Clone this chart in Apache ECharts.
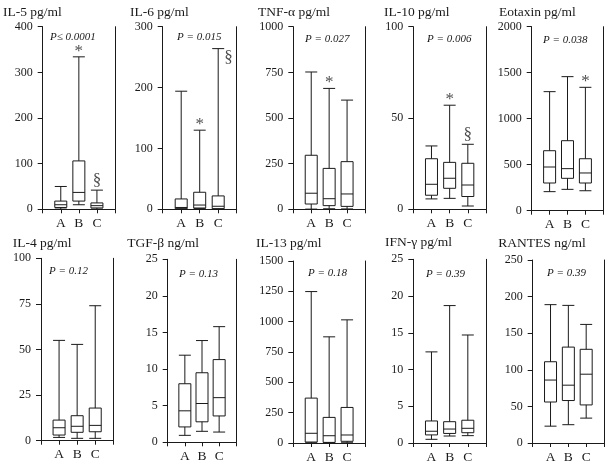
<!DOCTYPE html>
<html>
<head>
<meta charset="utf-8">
<script src="https://cdn.jsdelivr.net/npm/echarts@6/dist/echarts.min.js"></script>
<style>
html,body{margin:0;padding:0;background:#fff;}
#chart{width:609px;height:464px;}
</style>
</head>
<body>
<div id="chart"></div>
<script>
// ---- data ----
const categories = ['A', 'B', 'C'];
const panelTitles = ['IL-5 pg/ml', 'IL-6 pg/ml', 'TNF-α pg/ml', 'IL-10 pg/ml', 'Eotaxin pg/ml',
                     'IL-4 pg/ml', 'TGF-β ng/ml', 'IL-13 pg/ml', 'IFN-γ pg/ml', 'RANTES ng/ml'];
const pTexts = ['P≤ 0.0001', 'P = 0.015', 'P = 0.027', 'P = 0.006', 'P = 0.038',
                'P = 0.12', 'P = 0.13', 'P = 0.18', 'P = 0.39', 'P = 0.39'];
const yMax  = [400, 300, 1000, 100, 2000, 100, 25, 1500, 25, 250];
const yStep = [100, 100, 250, 50, 500, 25, 5, 250, 5, 50];
// [min, Q1, median, Q3, max] for A, B, C
const il5     = [[0.5, 4, 10, 18, 50], [10, 18, 37, 106, 334], [0.5, 3, 8, 14, 42]];
const il6     = [[0.3, 1, 3, 17, 194], [1.5, 2, 7, 28, 130], [0.5, 1, 5, 22, 264]];
const tnf     = [[1, 29, 88, 296, 752], [3, 20, 58, 224, 662], [2, 16, 84, 261, 598]];
const il10    = [[5.7, 7.7, 13.7, 27.7, 34.7], [6, 11.5, 17, 25.7, 57], [1.8, 7, 13.3, 25.2, 35.6]];
const eotaxin = [[207, 301, 475, 652, 1294], [232, 352, 457, 761, 1457], [217, 301, 410, 565, 1341]];
const il4     = [[1.8, 3.1, 7.1, 11.3, 55], [1.3, 4.6, 7.9, 13.7, 52.8], [1.3, 4.9, 8.4, 17.9, 74]];
const tgf     = [[0.95, 2.1, 4.3, 8.0, 11.9], [1.5, 2.8, 5.3, 9.5, 13.9], [1.4, 3.6, 6.1, 11.3, 15.8]];
const il13    = [[2, 8, 80, 370, 1248], [2, 5, 60, 211, 875], [2, 14, 66, 293, 1015]];
const ifn     = [[0.5, 1.1, 1.6, 3.0, 12.4], [0.95, 1.3, 1.9, 2.9, 18.7], [1.0, 1.4, 2.0, 3.1, 14.7]];
const rantes  = [[23, 56, 86, 111, 189], [25, 58, 79, 131, 188], [34, 52, 94, 128, 162]];
const panelValues = [il5, il6, tnf, il10, eotaxin, il4, tgf, il13, ifn, rantes];
// significance marks: [panel, category, symbol]
const marks = [[0, 'B', '*'], [0, 'C', '§'], [1, 'B', '*'], [1, 'C', '§'], [2, 'B', '*'],
               [3, 'B', '*'], [3, 'C', '§'], [4, 'C', '*']];

// ---- layout ----
const W = 609, H = 464;
const axisX  = [42.7, 162.7, 293.3, 413.3, 531.7, 41, 167.7, 293.3, 413.3, 532.7];
const rightX = [115, 236.7, 365, 486, 603.3, 113.3, 236.3, 365, 486, 604];
const topY   = [26.7, 26.7, 26.7, 26.7, 26.7, 258.3, 259.3, 261, 259.3, 260];
const zeroY  = [209.3, 209.3, 209.3, 209.3, 210.7, 440.7, 442.3, 443.3, 444, 445];
const titlePos = [[3, 12.5], [130, 12.5], [258, 12.5], [384, 12.5], [499, 12.5],
                  [12.7, 243.3], [127.3, 243.3], [256, 243.3], [385, 242], [498.3, 243.3]];
const pPos = [[50, 37], [177, 37], [305, 39], [427, 39], [543, 40],
              [49, 271], [179, 274], [308, 273], [426, 274], [547, 273]];

const FONT = '"Liberation Serif", "Times New Roman", serif';
const INK = '#1a1a1a';

const grid = [], xAxis = [], yAxis = [], series = [], graphic = [];
for (let i = 0; i < 10; i++) {
  grid.push({left: axisX[i], right: W - rightX[i], top: topY[i], bottom: H - zeroY[i]});
  xAxis.push({
    type: 'value', gridIndex: i, min: 0, max: 4, interval: 1,
    axisLine: {show: true, onZero: false, lineStyle: {color: INK, width: 1}},
    axisTick: {show: true, length: 4, lineStyle: {color: INK}},
    splitLine: {show: false},
    axisLabel: {
      show: true, margin: 7, fontFamily: FONT, fontSize: 13.5, color: INK,
      formatter: v => categories[v - 1] || ''
    }
  });
  yAxis.push({
    type: 'value', gridIndex: i, min: 0, max: yMax[i], interval: yStep[i],
    axisLine: {show: true, onZero: false, lineStyle: {color: INK, width: 1}},
    axisTick: {show: true, length: 5, lineStyle: {color: INK}},
    splitLine: {show: false},
    axisLabel: {margin: 10, fontFamily: FONT, fontSize: 12, color: INK, formatter: v => String(v)}
  });
  yAxis.push({
    type: 'value', gridIndex: i, min: 0, max: 1, position: 'right',
    axisLine: {show: true, onZero: false, lineStyle: {color: INK, width: 1}},
    axisTick: {show: false}, axisLabel: {show: false}, splitLine: {show: false}
  });
  series.push({
    type: 'boxplot', xAxisIndex: i, yAxisIndex: i * 2,
    boxWidth: [12, 12],
    itemStyle: {color: '#fff', borderColor: INK, borderWidth: 1},
    emphasis: {disabled: true},
    silent: true,
    data: panelValues[i].map((v, k) => [k + 1].concat(v))
  });
  graphic.push({
    type: 'text', x: titlePos[i][0], y: titlePos[i][1], silent: true,
    style: {text: panelTitles[i], font: '13.5px ' + FONT, fill: INK, align: 'left', verticalAlign: 'middle'}
  });
  graphic.push({
    type: 'text', x: pPos[i][0], y: pPos[i][1], silent: true,
    style: {text: pTexts[i], font: 'italic 11px ' + FONT, fill: INK, align: 'left', verticalAlign: 'middle'}
  });
}
marks.forEach(([p, cat, sym]) => {
  const ci = categories.indexOf(cat);
  const top = panelValues[p][ci][4];
  const side = (p === 1 && sym === '§');
  series.push({
    type: 'scatter', xAxisIndex: p, yAxisIndex: p * 2, symbolSize: 0, silent: true,
    data: [[ci + 1, top]],
    label: {
      show: true, formatter: sym, fontFamily: FONT, fontSize: sym === '*' ? 17 : 17, color: INK,
      position: side ? 'right' : 'top', distance: side ? 6 : (sym === '*' ? -3 : 1),
      offset: side ? [0, 9] : [0, 0]
    }
  });
});

const chart = echarts.init(document.getElementById('chart'), null, {renderer: 'canvas'});
chart.setOption({animation: false, backgroundColor: '#fff', grid, xAxis, yAxis, series, graphic});
</script>
</body>
</html>
